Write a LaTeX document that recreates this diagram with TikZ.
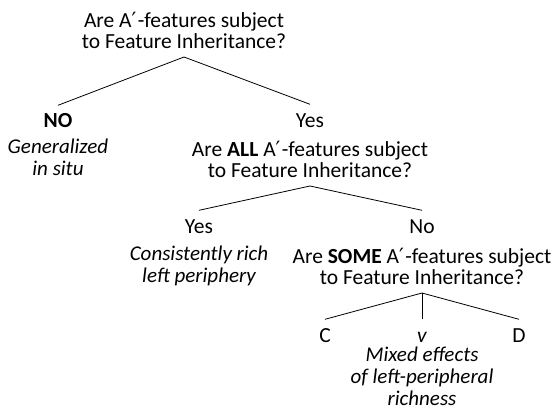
\documentclass[tikz,border=0pt]{standalone}
\usepackage{fontspec}
\setmainfont{Carlito}
\newfontfamily\primefont{DejaVu Sans}
\usetikzlibrary{positioning}
\newcommand{\qfont}{\fontsize{21.5}{21}\selectfont}
\newcommand{\Abar}{A{\primefont\fontsize{21}{21}\selectfont ′}\kern1.5pt}
\tikzset{
  question/.style={align=center, inner xsep=0pt, inner ysep=8.5pt, font=\qfont},
  answer/.style={inner xsep=0pt, inner ysep=9pt, text height=13.5pt, font=\qfont},
  outcome/.style={align=center, inner sep=0pt, font=\fontsize{21}{22}\selectfont\itshape},
  branch/.style={line width=0.8pt}
}
\begin{document}
\begin{tikzpicture}[x=1pt,y=-1pt]
  \useasboundingbox (0,0) rectangle (557,412);

  % top question
  \node[question,anchor=south] (q1) at (184,57)
    {Are \Abar-features subject\\to Feature Inheritance?};

  % no feature inheritance
  \node[answer,anchor=base] (no1) at (58,128) {\textbf{NO}};
  \node[outcome,anchor=base] (insitu) at (58,175) {Generalized\\in situ};

  % yes: second question
  \node[answer,anchor=base] (yes1) at (310,127) {Yes};
  \node[question,anchor=south] (q2) at (310,186)
    {Are \textbf{ALL} \Abar-features subject\\to Feature Inheritance?};

  % all: rich left periphery
  \node[answer,anchor=base] (yes2) at (199,233) {Yes};
  \node[outcome,anchor=base] (rich) at (199,282) {Consistently rich\\left periphery};

  % not all: third question
  \node[answer,anchor=base] (no2) at (422,233) {No};
  \node[question,anchor=south] (q3) at (422,293)
    {Are \textbf{SOME} \Abar-features subject\\to Feature Inheritance?};

  % heads
  \node[answer,anchor=base] (headC) at (325,342) {C};
  \node[answer,anchor=base] (headv) at (422,342) {\textit{v}};
  \node[answer,anchor=base] (headD) at (519,342) {D};
  \node[outcome,anchor=base] (mixed) at (422,405)
    {Mixed effects\\of left-peripheral\\richness};

  % branches
  \draw[branch] (q1.south) -- (no1.north);
  \draw[branch] (q1.south) -- (yes1.north);
  \draw[branch] (q2.south) -- (yes2.north);
  \draw[branch] (q2.south) -- (no2.north);
  \foreach \h in {headC,headv,headD}
    \draw[branch] (q3.south) -- (\h.north);
\end{tikzpicture}
\end{document}
